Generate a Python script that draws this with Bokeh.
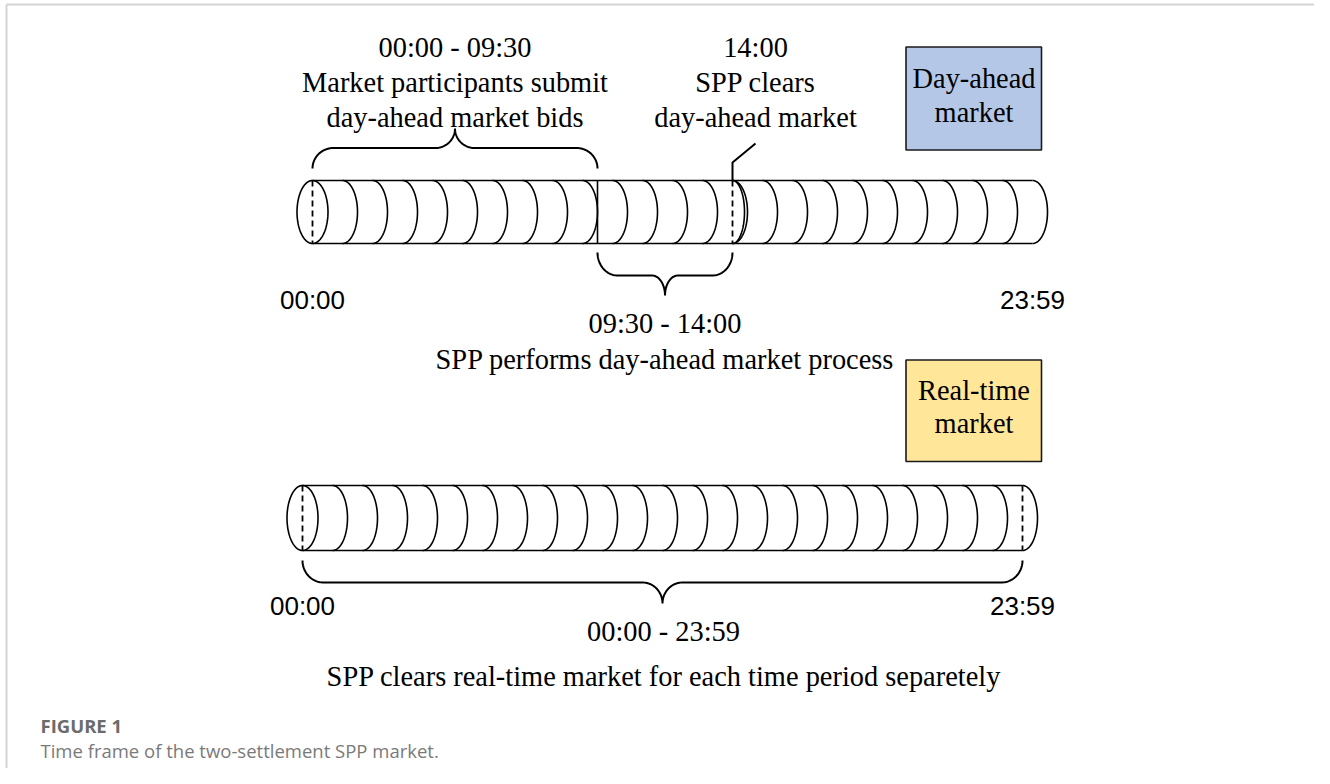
import numpy as np
from bokeh.plotting import figure
from bokeh.models import Range1d, ColumnDataSource
from bokeh.core.properties import value
from bokeh.embed import file_html
from bokeh.resources import INLINE

# ---------------- data ----------------
HOURS = list(range(25))                       # hourly segment boundaries 00:00 .. 24:00
DA_BID_WINDOW = [0.0, 9.5]                    # 00:00 - 09:30
DA_PROCESS_WINDOW = [9.5, 14.0]               # 09:30 - 14:00
DA_CLEAR_HOUR = 14.0                          # 14:00
RT_WINDOW = [0.0, 24.0]                       # 00:00 - 23:59

DA_TOP_LINES = ["00:00 - 09:30", "Market participants submit", "day-ahead market bids"]
DA_CLEAR_LINES = ["14:00", "SPP clears", "day-ahead market"]
DA_PROCESS_LINES = ["09:30 - 14:00", "SPP performs day-ahead market process"]
RT_LINES = ["00:00 - 23:59", "SPP clears real-time market for each time period separetely"]
DA_BOX_LINES = ["Day-ahead", "market"]
RT_BOX_LINES = ["Real-time", "market"]
END_LABELS = ["00:00", "23:59"]
CAPTION_TITLE = "FIGURE 1"
CAPTION_TEXT = "Time frame of the two-settlement SPP market."

# ---------------- layout ----------------
PX_PER_HOUR = 30.0
TOP_X0, TOP_YC, TOP_RY = 312.0, 211.5, 31.5
BOT_X0, BOT_YC, BOT_RY = 302.0, 517.5, 32.5
RX = 15.0
SERIF = value("Liberation Serif")
SANS = value("Liberation Sans")
SERIF_SIZE = "28.4px"
LW = 1.6

p = figure(width=1314, height=768, output_backend="svg", toolbar_location=None,
           x_range=Range1d(0, 1314), y_range=Range1d(768, 0),
           min_border=0, min_border_left=0, min_border_right=0,
           min_border_top=0, min_border_bottom=0)
p.axis.visible = False
p.xgrid.visible = False
p.ygrid.visible = False
p.outline_line_color = None
p.background_fill_color = "white"
p.border_fill_color = "white"


def hx(x0, h):
    return x0 + h * PX_PER_HOUR


def right_arc(cx, cy, rx, ry, n=48):
    t = np.linspace(-np.pi / 2, np.pi / 2, n)
    return list(cx + rx * np.cos(t)), list(cy + ry * np.sin(t))


def full_ellipse(cx, cy, rx, ry, n=96):
    t = np.linspace(0, 2 * np.pi, n)
    return list(cx + rx * np.cos(t)), list(cy + ry * np.sin(t))


def brace(x0, x1, y_end, y_h, y_tip, r_end, r_tip, n=30):
    xm = (x0 + x1) / 2.0
    t = np.linspace(0, np.pi / 2, n)
    # left end curve: (x0, y_end) -> (x0 + r_end, y_h)
    xs = list(x0 + r_end - r_end * np.cos(t))
    ys = list(y_end + (y_h - y_end) * np.sin(t))
    # left tip curve: (xm - r_tip, y_h) -> (xm, y_tip)
    xs += list(xm - r_tip + r_tip * np.sin(t))
    ys += list(y_tip + (y_h - y_tip) * np.cos(t))
    # right tip curve: (xm, y_tip) -> (xm + r_tip, y_h)
    xs += list(xm + r_tip - r_tip * np.cos(t))
    ys += list(y_tip + (y_h - y_tip) * np.sin(t))
    # right end curve: (x1 - r_end, y_h) -> (x1, y_end)
    xs += list(x1 - r_end + r_end * np.sin(t))
    ys += list(y_end + (y_h - y_end) * np.cos(t))
    return xs, ys


def cylinder(x0, yc, ry, dashed_hours, solid_hours, extra_arc_hours):
    xa, xb = hx(x0, HOURS[0]), hx(x0, HOURS[-1])
    ytop, ybot = yc - ry, yc + ry
    p.multi_line([[xa, xb], [xa, xb]], [[ytop, ytop], [ybot, ybot]],
                 line_color="black", line_width=LW)
    ex, ey = full_ellipse(xa, yc, RX + 0.5, ry)
    p.line(ex, ey, line_color="black", line_width=LW)
    axs, ays = [], []
    for h in HOURS[1:]:
        ax, ay = right_arc(hx(x0, h), yc, RX, ry)
        axs.append(ax)
        ays.append(ay)
    for h in extra_arc_hours:
        ax, ay = right_arc(hx(x0, h), yc, RX * 0.8, ry)
        axs.append(ax)
        ays.append(ay)
    p.multi_line(axs, ays, line_color="black", line_width=LW)
    if dashed_hours:
        p.multi_line([[hx(x0, h), hx(x0, h)] for h in dashed_hours],
                     [[ytop, ybot] for _ in dashed_hours],
                     line_color="black", line_width=1.8, line_dash="6 4")
    if solid_hours:
        p.multi_line([[hx(x0, h), hx(x0, h)] for h in solid_hours],
                     [[ytop, ybot] for _ in solid_hours],
                     line_color="black", line_width=LW)


# frame of the figure panel
p.multi_line([[6, 6], [6, 1314]], [[768, 4], [4, 4]],
             line_color="#d4d4d4", line_width=2)

# ---------------- day-ahead cylinder ----------------
cylinder(TOP_X0, TOP_YC, TOP_RY, dashed_hours=[0, DA_CLEAR_HOUR],
         solid_hours=[DA_BID_WINDOW[1]], extra_arc_hours=[DA_CLEAR_HOUR])

bx, by = brace(hx(TOP_X0, DA_BID_WINDOW[0]), hx(TOP_X0, DA_BID_WINDOW[1]),
               168, 147.5, 128, 21, 19.5)
p.line(bx, by, line_color="black", line_width=2)

bx, by = brace(hx(TOP_X0, DA_PROCESS_WINDOW[0]), hx(TOP_X0, DA_PROCESS_WINDOW[1]),
               252, 275, 295, 20, 13)
p.line(bx, by, line_color="black", line_width=2)

xc = hx(TOP_X0, DA_CLEAR_HOUR)
p.line([xc, xc, xc + 23], [TOP_YC - TOP_RY, 162, 143], line_color="black", line_width=2)

# ---------------- real-time cylinder ----------------
cylinder(BOT_X0, BOT_YC, BOT_RY, dashed_hours=[0, 24], solid_hours=[], extra_arc_hours=[])
bx, by = brace(hx(BOT_X0, RT_WINDOW[0]), hx(BOT_X0, RT_WINDOW[1]),
               560, 582, 603, 21, 20)
p.line(bx, by, line_color="black", line_width=2)

# ---------------- legend boxes ----------------
p.quad(left=[905.5, 905.5], right=[1041, 1041], top=[46.5, 359.5], bottom=[149.5, 461],
       fill_color=["#b4c7e7", "#ffe699"], line_color="#1a1a1a", line_width=1.6)

# ---------------- texts ----------------
def serif_text(xs, ys, texts, size=SERIF_SIZE):
    src = ColumnDataSource(dict(x=xs, y=ys, t=texts))
    p.text("x", "y", text="t", source=src, text_font=SERIF, text_font_size=size,
           text_align="center", text_baseline="middle", text_color="black")


line_y_top = [47, 82, 117]
serif_text([hx(TOP_X0, sum(DA_BID_WINDOW) / 2)] * 3, line_y_top, DA_TOP_LINES)
serif_text([xc + 23] * 3, line_y_top, DA_CLEAR_LINES)
serif_text([hx(TOP_X0, sum(DA_PROCESS_WINDOW) / 2)] * 2, [323, 359], DA_PROCESS_LINES)
serif_text([hx(BOT_X0, sum(RT_WINDOW) / 2) + 1, hx(BOT_X0, sum(RT_WINDOW) / 2) + 1.5],
           [631, 676], RT_LINES)
serif_text([973.5, 973.5], [78, 112], DA_BOX_LINES)
serif_text([973.5, 973.5], [390, 423], RT_BOX_LINES)

src = ColumnDataSource(dict(
    x=[hx(TOP_X0, 0), hx(TOP_X0, 24), hx(BOT_X0, 0), hx(BOT_X0, 24)],
    y=[299, 299, 605, 605],
    t=END_LABELS + END_LABELS))
p.text("x", "y", text="t", source=src, text_font=SANS, text_font_size="26px",
       text_align="center", text_baseline="middle", text_color="black")

p.text([40], [725], text=[CAPTION_TITLE], text_font=value("Open Sans"),
       text_font_size="18.5px", text_font_style="bold", text_color="#6b6b6b",
       text_baseline="middle", text_align="left")
p.text([40], [750], text=[CAPTION_TEXT], text_font=value("Open Sans"),
       text_font_size="18.5px", text_color="#7a7a7a",
       text_baseline="middle", text_align="left")

open("out.html", "w").write(file_html(p, INLINE))
